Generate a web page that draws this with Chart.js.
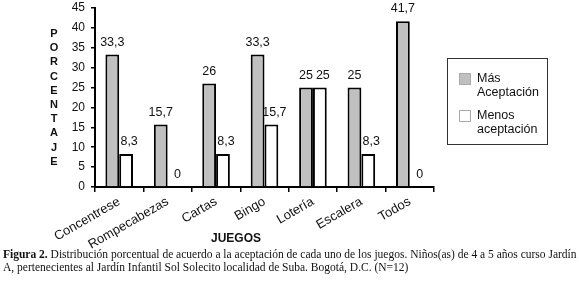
<!DOCTYPE html>
<html>
<head>
<meta charset="utf-8">
<script src="https://cdn.jsdelivr.net/npm/chart.js@4.4.1/dist/chart.umd.min.js"></script>
<style>
  body { margin: 0; background: #fff; width: 579px; height: 292px; overflow: hidden; position: relative; font-family: "Liberation Sans", Arial, sans-serif; }
  #wrap { position: absolute; left: 0; top: 0; width: 579px; height: 250px; }
  #yTitle { position: absolute; left: 47px; top: 26px; width: 14px; text-align: center; font-weight: bold; font-size: 11px; line-height: 14.2px; color: #111; }
  #xTitle { position: absolute; left: 200px; top: 231px; width: 72px; text-align: center; font-weight: bold; font-size: 12px; color: #111; }
  #legend { position: absolute; left: 447px; top: 58px; width: 99px; height: 85px; border: 1px solid #333; font-size: 12.5px; color: #111; }
  .item { position: absolute; left: 11px; }
  .sw { position: absolute; left: 0; top: 1px; width: 12px; height: 12px; border: 1px solid #aaa; box-sizing: border-box; }
  .txt { position: absolute; left: 18px; top: -1px; line-height: 14px; white-space: nowrap; }
  #caption { position: absolute; left: 3px; top: 248px; width: 576px; font-family: "Liberation Serif", "Times New Roman", serif; font-size: 11.5px; line-height: 12.5px; color: #111; white-space: nowrap; }
</style>
</head>
<body>
<div id="wrap"><canvas id="chart"></canvas></div>
<div id="yTitle"></div>
<div id="xTitle">JUEGOS</div>
<div id="legend"></div>
<div id="caption"><b>Figura 2.</b> Distribución porcentual de acuerdo a la aceptación de cada uno de los juegos. Niños(as) de 4 a 5 años curso Jardín<br>A, pertenecientes al Jardín Infantil Sol Solecito localidad de Suba. Bogotá, D.C. (N=12)</div>
<script>
// Datos del gráfico
const juegos = ['Concentrese', 'Rompecabezas', 'Cartas', 'Bingo', 'Lotería', 'Escalera', 'Todos'];
const masAceptacion = [33.3, 15.7, 26, 33.3, 25, 25, 41.7];
const menosAceptacion = [8.3, 0, 8.3, 15.7, 25, 8.3, 0];
const seriesLabels = [['Más', 'Aceptación'], ['Menos', 'aceptación']];
const yTicks = [0, 5, 10, 15, 20, 25, 30, 35, 40, 45];

// Título vertical letra por letra
document.getElementById('yTitle').innerHTML = 'PORCENTAJE'.split('').join('<br>');

// Etiquetas de valores encima de las barras (las de la 2a serie un poco a la derecha)
const labelShift = [0, 3];
const valueLabels = {
    id: 'valueLabels',
    afterDatasetsDraw(chart) {
        const ctx = chart.ctx;
        ctx.save();
        ctx.font = '12.5px "Liberation Sans", Arial, sans-serif';
        ctx.fillStyle = '#111';
        ctx.textAlign = 'center';
        ctx.textBaseline = 'bottom';
        chart.data.datasets.forEach((ds, i) => {
            chart.getDatasetMeta(i).data.forEach((bar, j) => {
                const txt = String(ds.data[j]).replace('.', ',');
                ctx.fillText(txt, bar.x + labelShift[i], bar.y - 6);
            });
        });
        ctx.restore();
    }
};

const chart = new Chart(document.getElementById('chart'), {
    type: 'bar',
    data: {
        labels: juegos,
        datasets: [
            {
                label: seriesLabels[0],
                data: masAceptacion,
                backgroundColor: '#c0c0c0',
                borderColor: '#000',
                borderWidth: 2,
                borderSkipped: 'bottom'
            },
            {
                label: seriesLabels[1],
                data: menosAceptacion,
                backgroundColor: '#fff',
                borderColor: '#000',
                borderWidth: 2,
                borderSkipped: 'bottom'
            }
        ]
    },
    options: {
        responsive: true,
        maintainAspectRatio: false,
        animation: false,
        layout: { padding: { left: 55, right: 145, top: 8, bottom: 0 } },
        datasets: { bar: { categoryPercentage: 0.57, barPercentage: 1 } },
        plugins: { legend: { display: false }, tooltip: { enabled: false } },
        scales: {
            x: {
                grid: { display: true, drawOnChartArea: false, drawTicks: true, tickLength: 5, color: '#000', lineWidth: 1.5, offset: true },
                border: { display: true, color: '#000', width: 2 },
                ticks: { color: '#111', font: { size: 13, family: '"Liberation Sans", Arial, sans-serif' }, minRotation: 30, maxRotation: 30, padding: 2, autoSkip: false },
                afterFit(scale) { scale.height = 63; scale.paddingLeft = 0; scale.paddingRight = 0; }
            },
            y: {
                min: 0,
                max: 45,
                afterBuildTicks(scale) { scale.ticks = yTicks.map(v => ({ value: v })); },
                grid: { display: true, drawOnChartArea: false, drawTicks: true, tickLength: 4, color: '#000', lineWidth: 1.5 },
                border: { display: true, color: '#000', width: 2 },
                ticks: { color: '#111', font: { size: 12, family: '"Liberation Sans", Arial, sans-serif' }, padding: 6 },
                afterFit(scale) { scale.width = 40; scale.paddingTop = 0; scale.paddingBottom = 0; }
            }
        }
    },
    plugins: [valueLabels]
});

// Leyenda construida a partir de los datasets
const legend = document.getElementById('legend');
chart.data.datasets.forEach((ds, i) => {
    const item = document.createElement('div');
    item.className = 'item';
    item.style.top = (13 + i * 37) + 'px';
    item.innerHTML = '<div class="sw" style="background:' + ds.backgroundColor + '"></div>' +
        '<div class="txt">' + ds.label.join('<br>') + '</div>';
    legend.appendChild(item);
});
</script>
</body>
</html>
